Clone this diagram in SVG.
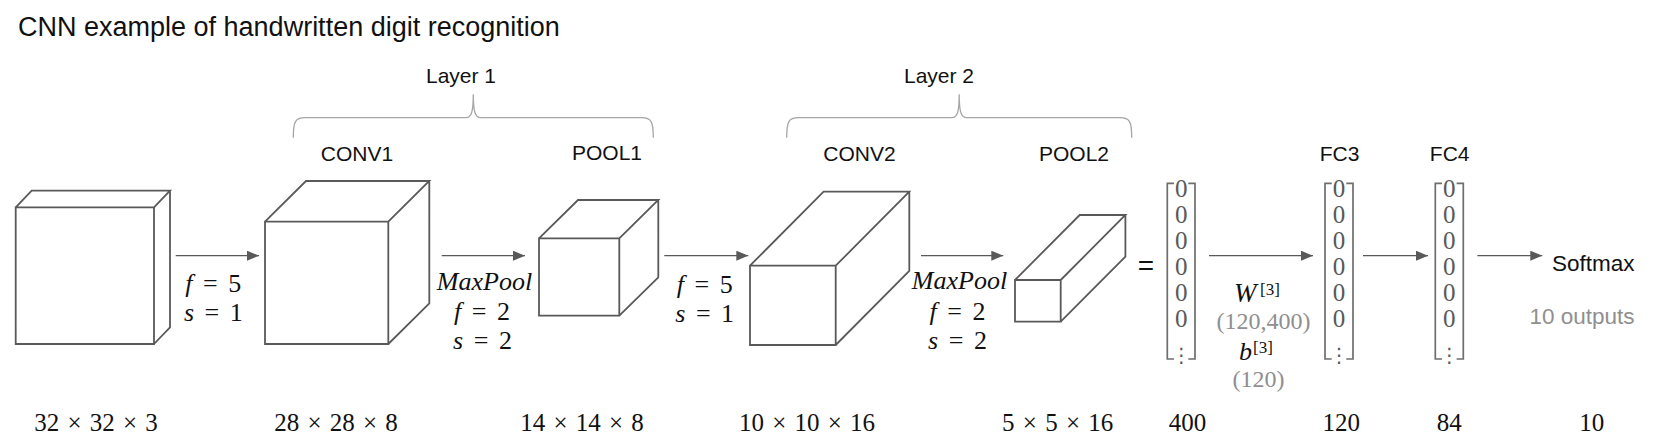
<svg xmlns="http://www.w3.org/2000/svg" width="1653" height="445" viewBox="0 0 1653 445">
<style>
  .bg { fill: #ffffff; }
  .cube { fill: #ffffff; stroke: #595959; stroke-width: 1.8; stroke-linejoin: miter; }
  .conn { stroke: #595959; stroke-width: 1.2; fill: none; }
  .brace { stroke: #a6a6a6; stroke-width: 1.3; fill: none; }
  .vbr { stroke: #6e6e6e; stroke-width: 1.7; fill: none; }
  .lbl { font-family: "Liberation Sans", Arial, sans-serif; font-size: 21px; fill: #111111; }
  .title { font-family: "Liberation Sans", Arial, sans-serif; font-size: 27px; fill: #111111; }
  .math { font-family: "Liberation Serif", "Times New Roman", serif; font-size: 26px; fill: #111111; word-spacing: 4px; }
  .dim { font-family: "Liberation Serif", "Times New Roman", serif; font-size: 25px; fill: #111111; word-spacing: 2px; text-anchor: middle; }
  .it { font-style: italic; }
  .zero { font-family: "Liberation Serif", "Times New Roman", serif; font-size: 25px; fill: #595959; text-anchor: middle; }
  .vd { font-family: "DejaVu Sans", sans-serif; font-size: 20px; }
  .gray { font-family: "Liberation Serif", "Times New Roman", serif; font-size: 24px; fill: #8f8f8f; }
  .grays { font-family: "Liberation Sans", Arial, sans-serif; font-size: 22.5px; fill: #8f8f8f; }
  .sup { font-family: "Liberation Serif", "Times New Roman", serif; font-size: 17px; fill: #111111; }
  .mid { text-anchor: middle; }
</style>
<defs>
  <marker id="ah" markerUnits="userSpaceOnUse" markerWidth="12" markerHeight="10" refX="12" refY="5" orient="auto">
    <path d="M0,0 L12,5 L0,10 Z" fill="#595959"/>
  </marker>
</defs>
<rect class="bg" x="0" y="0" width="1653" height="445"/>

<text class="title" x="18" y="36">CNN example of handwritten digit recognition</text>

<g id="layer1">
  <path class="brace" d="M293.3,137.7 C293.3,122 295,117.7 305,117.7 L466,117.7 C471,117.7 473.3,113 473.3,94.3 C473.3,113 475.6,117.7 480.6,117.7 L641.6,117.7 C651.6,117.7 653.3,122 653.3,137.7"/>
  <text class="lbl" x="426" y="83.3">Layer 1</text>
</g>
<g id="layer2">
  <path class="brace" d="M786.7,137.7 C786.7,122 788.4,117.7 798.4,117.7 L952,117.7 C957,117.7 959.2,113 959.2,94.3 C959.2,113 961.5,117.7 966.5,117.7 L1120,117.7 C1130,117.7 1131.7,122 1131.7,137.7"/>
  <text class="lbl" x="904" y="83.3">Layer 2</text>
</g>

<g id="input">
  <path class="cube" d="M15.7,207.3 H154 V344 H15.7 Z M15.7,207.3 L31.7,190.6 H170 L154,207.3 M170,190.6 V327.3 L154,344"/>
  <text class="dim" x="96" y="430.5">32 × 32 × 3</text>
</g>

<g id="conv1">
  <text class="lbl mid" x="357" y="160.7">CONV1</text>
  <path class="cube" d="M265,221.7 H388.3 V344 H265 Z M265,221.7 L306,181 H429.3 L388.3,221.7 M429.3,181 V303.3 L388.3,344"/>
  <text class="dim" x="336" y="430.5">28 × 28 × 8</text>
</g>

<g id="pool1">
  <text class="lbl mid" x="607" y="160.3">POOL1</text>
  <path class="cube" d="M539,238.3 H619.3 V315.7 H539 Z M539,238.3 L578,200 H658.3 L619.3,238.3 M658.3,200 V277.4 L619.3,315.7"/>
  <text class="dim" x="582" y="430.5">14 × 14 × 8</text>
</g>

<g id="conv2">
  <text class="lbl mid" x="859.5" y="161.3">CONV2</text>
  <path class="cube" d="M750,265.7 H835.7 V345 H750 Z M750,265.7 L823.6,191.7 H909.3 L835.7,265.7 M909.3,191.7 V271 L835.7,345"/>
  <text class="dim" x="807" y="430.5">10 × 10 × 16</text>
</g>

<g id="pool2">
  <text class="lbl mid" x="1074" y="161.3">POOL2</text>
  <path class="cube" d="M1015,280 H1060.7 V321.7 H1015 Z M1015,280 L1079.7,215 H1125.4 L1060.7,280 M1125.4,215 V256.7 L1060.7,321.7"/>
  <text class="dim" x="1057.7" y="430.5">5 × 5 × 16</text>
</g>

<text x="1146" y="275" text-anchor="middle" style="font-family: 'Liberation Sans', Arial, sans-serif; font-size: 28px; fill: #111111;">=</text>

<g id="flat">
  <path class="vbr" d="M1174,183.3 H1167.3 V359 H1174 M1188.3,183.3 H1195 V359 H1188.3"/>
  <text class="zero"><tspan x="1181.3" y="197">0</tspan><tspan x="1181.3" y="223">0</tspan><tspan x="1181.3" y="249">0</tspan><tspan x="1181.3" y="275">0</tspan><tspan x="1181.3" y="301">0</tspan><tspan x="1181.3" y="327">0</tspan><tspan class="vd" x="1181.3" y="362">⋮</tspan></text>
  <text class="dim" x="1187.5" y="430.5">400</text>
</g>

<g id="fc3">
  <text class="lbl mid" x="1339.5" y="160.7">FC3</text>
  <path class="vbr" d="M1331.7,183.3 H1325 V359 H1331.7 M1346.3,183.3 H1353 V359 H1346.3"/>
  <text class="zero"><tspan x="1339" y="197">0</tspan><tspan x="1339" y="223">0</tspan><tspan x="1339" y="249">0</tspan><tspan x="1339" y="275">0</tspan><tspan x="1339" y="301">0</tspan><tspan x="1339" y="327">0</tspan><tspan class="vd" x="1339" y="362">⋮</tspan></text>
  <text class="dim" x="1341.3" y="430.5">120</text>
</g>

<g id="fc4">
  <text class="lbl mid" x="1449.7" y="160.7">FC4</text>
  <path class="vbr" d="M1442,183.3 H1435.3 V359 H1442 M1456.6,183.3 H1463.3 V359 H1456.6"/>
  <text class="zero"><tspan x="1449.3" y="197">0</tspan><tspan x="1449.3" y="223">0</tspan><tspan x="1449.3" y="249">0</tspan><tspan x="1449.3" y="275">0</tspan><tspan x="1449.3" y="301">0</tspan><tspan x="1449.3" y="327">0</tspan><tspan class="vd" x="1449.3" y="362">⋮</tspan></text>
  <text class="dim" x="1449.3" y="430.5">84</text>
</g>

<g id="softmax">
  <text x="1552" y="270.7" style="font-family: 'Liberation Sans', Arial, sans-serif; font-size: 22.5px; fill: #111111;">Softmax</text>
  <text class="grays" x="1634.5" y="324" text-anchor="end">10 outputs</text>
  <text class="dim" x="1591.8" y="430.5">10</text>
</g>

<g id="connectors">
  <line class="conn" x1="175.7" y1="255.7" x2="259" y2="255.7" marker-end="url(#ah)"/>
  <line class="conn" x1="441.7" y1="255.7" x2="525" y2="255.7" marker-end="url(#ah)"/>
  <line class="conn" x1="664.3" y1="255.7" x2="748.3" y2="255.7" marker-end="url(#ah)"/>
  <line class="conn" x1="921" y1="255.7" x2="1003.3" y2="255.7" marker-end="url(#ah)"/>
  <line class="conn" x1="1209" y1="255.7" x2="1313" y2="255.7" marker-end="url(#ah)"/>
  <line class="conn" x1="1363" y1="255.7" x2="1428" y2="255.7" marker-end="url(#ah)"/>
  <line class="conn" x1="1477.3" y1="255.7" x2="1542.3" y2="255.7" marker-end="url(#ah)"/>

  <text class="math mid" x="213.3" y="292"><tspan class="it">f</tspan> = 5</text>
  <text class="math mid" x="213.3" y="320.5"><tspan class="it">s</tspan> = 1</text>

  <text class="math mid it" x="484.5" y="290">MaxPool</text>
  <text class="math mid" x="482" y="320"><tspan class="it">f</tspan> = 2</text>
  <text class="math mid" x="482.5" y="349"><tspan class="it">s</tspan> = 2</text>

  <text class="math mid" x="704.7" y="293"><tspan class="it">f</tspan> = 5</text>
  <text class="math mid" x="704.7" y="321.5"><tspan class="it">s</tspan> = 1</text>

  <text class="math mid it" x="959.5" y="289">MaxPool</text>
  <text class="math mid" x="957.5" y="320"><tspan class="it">f</tspan> = 2</text>
  <text class="math mid" x="957.5" y="348.5"><tspan class="it">s</tspan> = 2</text>

  <text x="1234" y="301.5" style="font-family: 'Liberation Serif', 'Times New Roman', serif; font-size: 27px; font-style: italic; fill: #111111;">W</text>
  <text class="sup" x="1260" y="295">[3]</text>
  <text class="gray mid" x="1263.5" y="329.3">(120,400)</text>
  <text class="math it" x="1239" y="360">b</text>
  <text class="sup" x="1253" y="353">[3]</text>
  <text class="gray mid" x="1258.5" y="386.7">(120)</text>
</g>
</svg>
